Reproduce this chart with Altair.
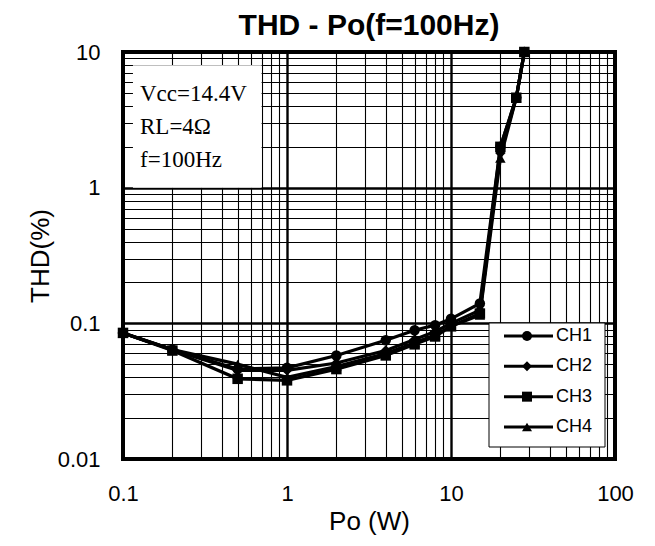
import altair as alt
import pandas as pd

series = ["CH1", "CH2", "CH3", "CH4"]
shapes = ["circle", "diamond", "square", "triangle-up"]
po = [0.1, 0.2, 0.5, 1, 2, 4, 6, 8, 10, 15, 20, 25, 28]
ch1 = [0.085, 0.064, 0.046, 0.047, 0.058, 0.075, 0.089, 0.097, 0.108, 0.14, 2.0, 4.6, 10]
ch2 = [0.085, 0.064, 0.045, 0.045, 0.051, 0.063, 0.076, 0.087, 0.100, 0.125, 1.8, 4.6, 10]
ch3 = [0.085, 0.063, 0.039, 0.038, 0.046, 0.058, 0.070, 0.080, 0.095, 0.118, 2.0, 4.6, 10]
ch4 = [0.085, 0.064, 0.050, 0.040, 0.048, 0.060, 0.072, 0.082, 0.095, 0.115, 1.65, 4.6, 10]

x_ticks = [0.1, 0.2, 0.3, 0.4, 0.5, 0.6, 0.7, 0.8, 0.9,
           1, 2, 3, 4, 5, 6, 7, 8, 9,
           10, 20, 30, 40, 50, 60, 70, 80, 90, 100]
x_major = [0.1, 1, 10, 100]
y_ticks = [0.01, 0.02, 0.03, 0.04, 0.05, 0.06, 0.07, 0.08, 0.09,
           0.1, 0.2, 0.3, 0.4, 0.5, 0.6, 0.7, 0.8, 0.9,
           1, 2, 3, 4, 5, 6, 7, 8, 9, 10]
y_major = [0.01, 0.1, 1, 10]

note_lines = "Vcc=14.4V\nRL=4Ω\nf=100Hz"

rows = []
for name, vals in zip(series, [ch1, ch2, ch3, ch4]):
    for p, v in zip(po, vals):
        rows.append({"series": name, "po": p, "thd": v})
df = pd.DataFrame(rows)

SANS = "Liberation Sans"
SERIF = "Liberation Serif"

xscale = alt.Scale(type="log", domain=[0.1, 100], nice=False)
yscale = alt.Scale(type="log", domain=[0.01, 10], nice=False)
shape_scale = alt.Scale(domain=series, range=shapes)


def major_test(vals):
    return "indexof([" + ",".join(str(v) for v in vals) + "], datum.value) >= 0"


x_axis = alt.Axis(
    values=x_ticks, format="~g",
    labelExpr=major_test(x_major) + " ? datum.label : ''",
    grid=True, gridColor="black", gridOpacity=1,
    gridWidth={"condition": {"test": major_test(x_major), "value": 2.4}, "value": 1.1},
    domain=False, ticks=False, tickSize=0,
    labelPadding=24, labelFont=SANS, labelFontSize=22, labelColor="black",
    labelOverlap=False, labelFlush=False, labelBound=False,
    title="Po (W)", titleFont=SANS, titleFontSize=26, titleFontWeight="normal",
    titleColor="black", titleBaseline="alphabetic", titleY=70,
)
y_axis = alt.Axis(
    values=y_ticks, format="~g",
    labelExpr=major_test(y_major) + " ? datum.label : ''",
    grid=True, gridColor="black", gridOpacity=1,
    gridWidth={"condition": {"test": major_test(y_major), "value": 2.4}, "value": 1.1},
    domain=False, ticks=False, tickSize=0,
    labelPadding=23, labelFont=SANS, labelFontSize=22, labelColor="black",
    labelOverlap=False, labelFlush=False, labelBound=False,
    title="THD(%)", titleFont=SANS, titleFontSize=26, titleFontWeight="normal",
    titleColor="black", titleBaseline="middle", titleX=-83,
)

base = alt.Chart(df)

lines = base.mark_line(color="black", strokeWidth=3.2).encode(
    x=alt.X("po:Q", scale=xscale, axis=x_axis),
    y=alt.Y("thd:Q", scale=yscale, axis=y_axis),
    detail="series:N",
)
points = base.mark_point(filled=True, color="black", opacity=1, size=110).encode(
    x=alt.X("po:Q", scale=xscale, axis=x_axis),
    y=alt.Y("thd:Q", scale=yscale, axis=y_axis),
    shape=alt.Shape("series:N", scale=shape_scale, legend=None),
)

box_df = pd.DataFrame({"po": [0.115], "po2": [0.7], "thd": [8.0], "thd2": [1.0]})
note_box = alt.Chart(box_df).mark_rect(fill="white").encode(
    x=alt.X("po:Q", scale=xscale, axis=x_axis),
    x2="po2:Q",
    y=alt.Y("thd:Q", scale=yscale, axis=y_axis),
    y2="thd2:Q",
)
note_text = alt.Chart(box_df).mark_text(
    text=note_lines, lineBreak="\n", lineHeight=33, align="left",
    baseline="alphabetic", font=SERIF, fontSize=23, color="black",
).encode(x=alt.value(17), y=alt.value(49))

inner = alt.layer(lines, note_box, note_text, points)

leg_df = pd.DataFrame({"series": series, "idx": list(range(len(series)))})
leg_y = alt.Y("idx:Q", scale=alt.Scale(domain=[0, 3], range=[284, 375]), axis=None)

leg_box = alt.Chart(pd.DataFrame({"a": [0]})).mark_rect(
    fill="white", stroke="black", strokeWidth=1
).encode(x=alt.value(366), x2=alt.value(482), y=alt.value(271), y2=alt.value(395))
leg_rule = alt.Chart(leg_df).mark_rule(color="black", strokeWidth=3).encode(
    x=alt.value(381), x2=alt.value(430), y=leg_y
)
leg_pts = alt.Chart(leg_df).mark_point(filled=True, color="black", opacity=1, size=100).encode(
    x=alt.value(404), y=leg_y,
    shape=alt.Shape("series:N", scale=shape_scale, legend=None),
)
leg_txt = alt.Chart(leg_df).mark_text(
    align="left", baseline="middle", font=SANS, fontSize=18, color="black"
).encode(x=alt.value(433), y=leg_y, text="series:N")

legend = alt.layer(leg_box, leg_rule, leg_pts, leg_txt)

chart = alt.layer(inner, legend).resolve_scale(y="independent").properties(
    width=492, height=407,
    padding={"left": 115, "top": 44, "right": 30, "bottom": 86},
    autosize="none",
    title=alt.TitleParams(
        text="THD - Po(f=100Hz)", font=SANS, fontSize=30, fontWeight="bold",
        color="black", offset=0, anchor="middle",
    ),
    background="white",
).configure_view(stroke="black", strokeWidth=4)

chart.save("out.html", embed_options={"renderer": "svg", "actions": False})
